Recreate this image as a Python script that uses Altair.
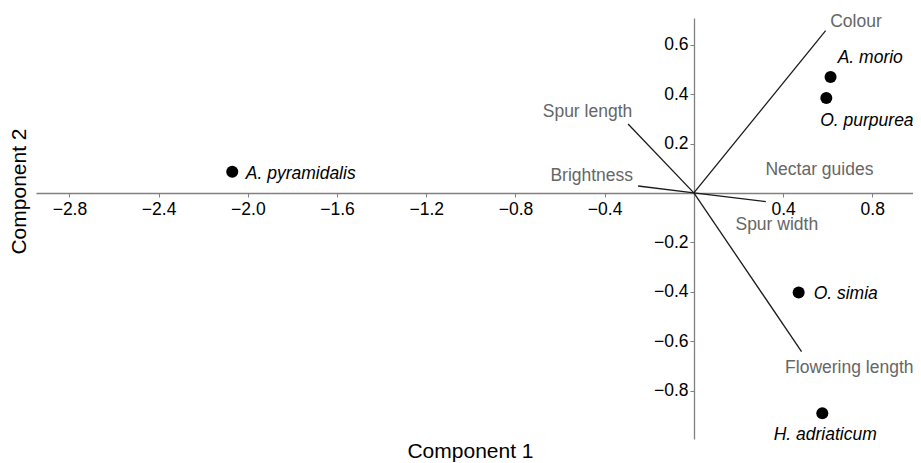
import altair as alt
import pandas as pd

# Species scores (component 1, component 2)
species = ["A. pyramidalis", "A. morio", "O. purpurea", "O. simia", "H. adriaticum"]
pc1 = [-2.070, 0.613, 0.594, 0.470, 0.576]
pc2 = [0.086, 0.469, 0.384, -0.403, -0.892]
species_label_x = [-1.763, 0.791, 0.776, 0.681, 0.589]
species_label_y = [0.057, 0.525, 0.271, -0.430, -0.999]

# Trait loadings
traits = ["Colour", "Spur length", "Brightness", "Nectar guides", "Spur width", "Flowering length"]
load1 = [0.591, -0.295, -0.250, 0.0, 0.323, 0.483]
load2 = [0.657, 0.279, 0.028, 0.0, -0.035, -0.642]
trait_label_x = [0.727, -0.477, -0.458, 0.563, 0.372, 0.697]
trait_label_y = [0.673, 0.308, 0.050, 0.073, -0.152, -0.730]

x_ticks = [-2.8, -2.4, -2.0, -1.6, -1.2, -0.8, -0.4, 0.4, 0.8]
y_ticks = [-0.8, -0.6, -0.4, -0.2, 0.2, 0.4, 0.6]

sp = pd.DataFrame({"species": species, "pc1": pc1, "pc2": pc2,
                   "lx": species_label_x, "ly": species_label_y})
tr = pd.DataFrame({"trait": traits, "x0": [0.0] * len(traits), "y0": [0.0] * len(traits),
                   "x1": load1, "y1": load2, "lx": trait_label_x, "ly": trait_label_y})

FONT = "Liberation Sans"
xs = alt.Scale(domain=[-2.95, 0.9827], nice=False, zero=False)
ys = alt.Scale(domain=[-0.996, 0.708], nice=False, zero=False)

xaxis = alt.Axis(values=x_ticks, format=".1f", grid=False, offset=-246,
                 domainColor="#808080", tickColor="#808080", domainWidth=1.3,
                 tickSize=4, labelPadding=3, labelFont=FONT, labelFontSize=17.5,
                 labelColor="#000000", title="Component 1", titleFont=FONT,
                 titleFontSize=21, titleFontWeight="normal", titleColor="#000000",
                 titleX=434, titleY=264, titleAlign="center", titleBaseline="alphabetic",
                 labelFlush=False, labelOverlap=False)
yaxis = alt.Axis(values=y_ticks, format=".1f", grid=False, offset=-658,
                 domainColor="#808080", tickColor="#808080", domainWidth=1.3,
                 tickSize=4, labelPadding=2, labelFont=FONT, labelFontSize=17.5,
                 labelColor="#000000", title="Component 2", titleFont=FONT,
                 titleFontSize=21, titleFontWeight="normal", titleColor="#000000",
                 titleX=-675, titleY=173, titleAngle=270, titleAlign="center",
                 titleBaseline="middle", labelFlush=False, labelOverlap=False)

vectors = alt.Chart(tr).mark_rule(color="#1a1a1a", strokeWidth=1.3).encode(
    x=alt.X("x0:Q", scale=xs, axis=xaxis),
    y=alt.Y("y0:Q", scale=ys, axis=yaxis),
    x2="x1:Q",
    y2="y1:Q",
)

trait_text = alt.Chart(tr).mark_text(font=FONT, fontSize=17.5, color="#666666",
                                      align="center", baseline="alphabetic").encode(
    x=alt.X("lx:Q", scale=xs, axis=xaxis),
    y=alt.Y("ly:Q", scale=ys, axis=yaxis),
    text="trait:N",
)

points = alt.Chart(sp).mark_point(filled=True, size=145, color="#000000", opacity=1,
                                  shape="circle").encode(
    x=alt.X("pc1:Q", scale=xs, axis=xaxis),
    y=alt.Y("pc2:Q", scale=ys, axis=yaxis),
)

sp_text = alt.Chart(sp).mark_text(font=FONT, fontSize=17.5, fontStyle="italic",
                                   color="#000000", align="center",
                                   baseline="alphabetic").encode(
    x=alt.X("lx:Q", scale=xs, axis=xaxis),
    y=alt.Y("ly:Q", scale=ys, axis=yaxis),
    text="species:N",
)

chart = alt.layer(vectors, trait_text, points, sp_text).properties(
    width=877, height=421,
    autosize=alt.AutoSizeParams(type="none"),
    padding={"left": 28, "top": 10, "right": 0, "bottom": 24},
).configure_view(stroke=None)

chart.save("out.html", embed_options={"renderer": "svg", "actions": False})
